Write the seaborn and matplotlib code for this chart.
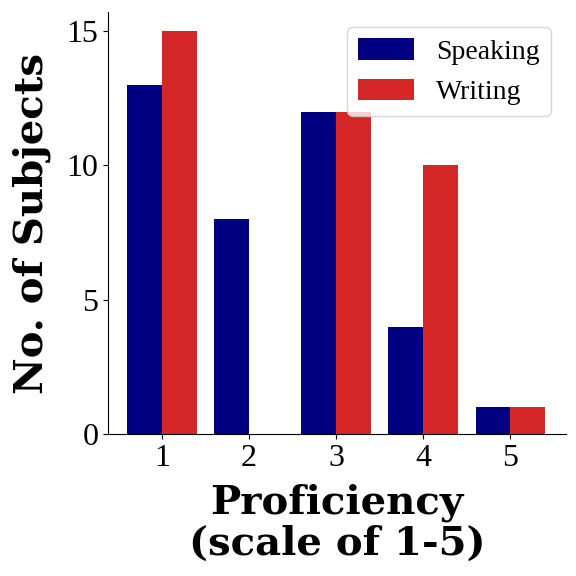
import matplotlib
matplotlib.use("Agg")
import matplotlib.pyplot as plt
import seaborn as sns
import pandas as pd

levels = [1, 2, 3, 4, 5]
speaking = [13, 8, 12, 4, 1]
writing = [15, 0, 12, 10, 1]

df = pd.DataFrame({
    "Proficiency": levels * 2,
    "Count": speaking + writing,
    "Skill": ["Speaking"] * len(levels) + ["Writing"] * len(levels),
})

sns.set_style("ticks", {"text.color": "black", "axes.labelcolor": "black",
                        "xtick.color": "black", "ytick.color": "black",
                        "axes.edgecolor": "black"})
plt.rcParams["font.family"] = ["Liberation Serif", "DejaVu Serif"]

fig, ax = plt.subplots(figsize=(5.76, 5.76), dpi=100)
sns.barplot(data=df, x="Proficiency", y="Count", hue="Skill",
            palette=["#000080", "#d62728"], saturation=1, width=0.8,
            linewidth=0, ax=ax)

ax.set_xlim(-0.62, 4.64)
ax.set_ylim(0, 15.7)
ax.set_yticks([0, 5, 10, 15])
ax.tick_params(labelsize=23)
ax.set_xlabel("Proficiency\n(scale of 1-5)", fontsize=29, fontweight="bold",
              family="DejaVu Serif", linespacing=1.1, labelpad=8)
ax.set_ylabel("No. of Subjects", fontsize=29, fontweight="bold",
              family="DejaVu Serif", labelpad=11)
sns.despine(ax=ax)
ax.legend(title=None, fontsize=20, loc="upper right", handlelength=2.0,
          handleheight=0.8, frameon=True, borderaxespad=0.55)

fig.subplots_adjust(left=0.1875, right=0.983, top=0.979, bottom=0.2465)
plt.savefig("out.png", dpi=100)
